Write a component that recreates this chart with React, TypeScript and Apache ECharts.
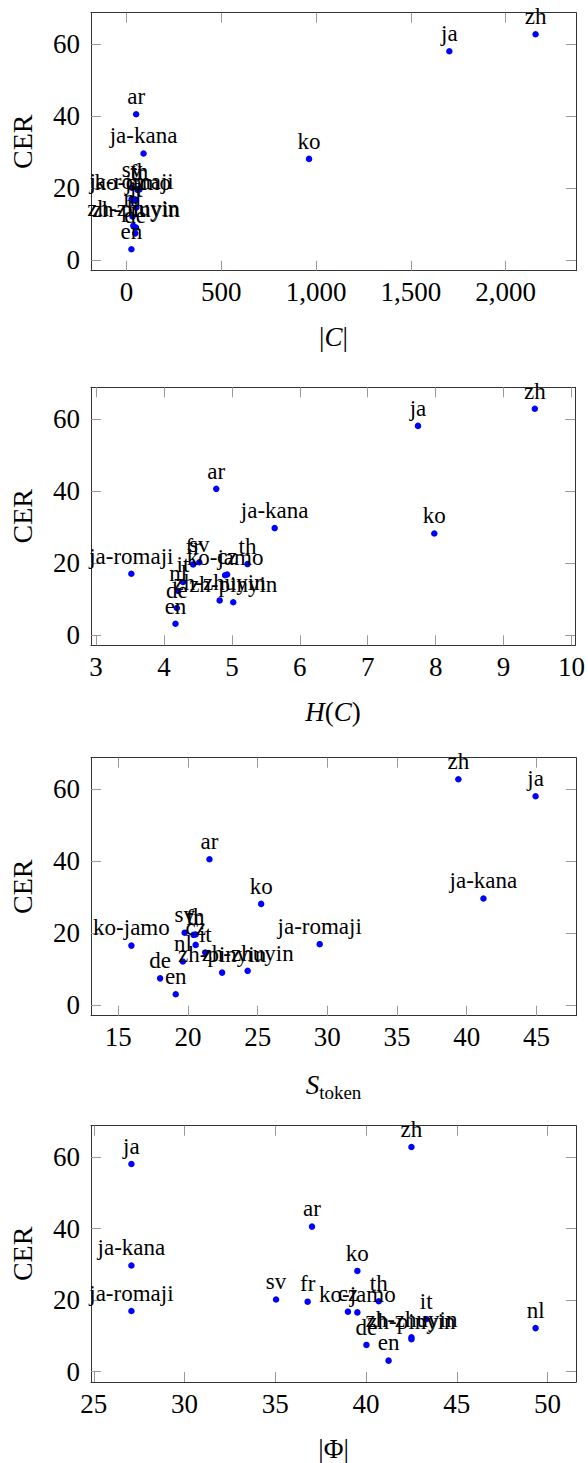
import React, { useEffect, useRef } from 'react';
import * as echarts from 'echarts';

const languages = ['ar', 'cz', 'de', 'en', 'fr', 'it', 'ja', 'ja-kana', 'ja-romaji', 'ko', 'ko-jamo', 'nl', 'sv', 'th', 'zh', 'zh-pinyin', 'zh-zhuyin'];
const cer = [40.6, 16.8, 7.5, 3.1, 19.6, 14.7, 58.1, 29.7, 17.0, 28.2, 16.6, 12.2, 20.2, 19.7, 62.85, 9.1, 9.6];
const charsetSize = [51, 50, 46, 26, 58, 52, 1703, 90, 27, 963, 33, 32, 29, 68, 2158, 50, 36];
const charEntropy = [4.77, 4.93, 4.19, 4.17, 4.43, 4.28, 7.74, 5.63, 3.52, 7.98, 4.9, 4.21, 4.52, 5.23, 9.46, 5.02, 4.82];
const tokenSize = [21.54, 20.55, 18.0, 19.12, 20.4, 21.24, 44.94, 41.2, 29.45, 25.25, 15.94, 19.63, 19.76, 20.55, 39.4, 22.45, 24.28];
const phiSize = [37.02, 39.0, 40.02, 41.24, 36.78, 43.31, 27.07, 27.07, 27.07, 39.52, 39.52, 49.34, 35.04, 40.7, 42.5, 42.5, 42.5];

const cerTicks = [0, 20, 40, 60];
const xTicks1 = [0, 500, 1000, 1500, 2000];
const xTickLabels1 = ['0', '500', '1,000', '1,500', '2,000'];
const xTicks2 = [3, 4, 5, 6, 7, 8, 9, 10];
const xTicks3 = [15, 20, 25, 30, 35, 40, 45];
const xTicks4 = [25, 30, 35, 40, 45, 50];

const xTitles = ['|{i|C}|', '{i|H}({i|C})', '{i|S}{sub|token}', '|Φ|'];
const yTitle = 'CER';

const FONT = 'Liberation Serif';

function padExtent(arr: number[]) {
  const lo = Math.min(...arr);
  const hi = Math.max(...arr);
  const pad = (hi - lo) * 0.1;
  return [lo - pad, hi + pad];
}

export default function App() {
  const ref = useRef<HTMLDivElement>(null);
  useEffect(() => {
    if (!ref.current) return;
    const chart = echarts.init(ref.current, null, { renderer: 'svg' });
    const panels = [
      { x: charsetSize, ticks: xTicks1, labels: xTickLabels1 },
      { x: charEntropy, ticks: xTicks2, labels: xTicks2.map(String) },
      { x: tokenSize, ticks: xTicks3, labels: xTicks3.map(String) },
      { x: phiSize, ticks: xTicks4, labels: xTicks4.map(String) },
    ];
    const tops = [12.7, 387.3, 757.7, 1125.7];
    const yExt = padExtent(cer);
    const grids: any[] = [];
    const xAxes: any[] = [];
    const yAxes: any[] = [];
    const series: any[] = [];
    const lineStyle = { color: '#333', width: 1 };
    const tickStyle = { color: '#9a9a9a', width: 1 };
    panels.forEach((p, i) => {
      grids.push({ left: 91, width: 485, top: tops[i], height: 258 });
      const xExt = padExtent(p.x);
      const common = {
        type: 'value',
        gridIndex: i,
        min: xExt[0],
        max: xExt[1],
        splitLine: { show: false },
        axisLine: { show: true, onZero: false, lineStyle },
        axisTick: { show: true, inside: true, length: 10, lineStyle: tickStyle, customValues: p.ticks },
      };
      xAxes.push({
        ...common,
        position: 'bottom',
        axisLabel: {
          show: true,
          customValues: p.ticks,
          formatter: (v: number) => {
            const k = p.ticks.indexOf(v);
            return k >= 0 ? p.labels[k] : '';
          },
          fontSize: 27,
          fontFamily: FONT,
          color: '#000',
          margin: 8,
        },
        name: xTitles[i],
        nameLocation: 'middle',
        nameGap: 53,
        nameTextStyle: {
          fontSize: 27,
          fontFamily: FONT,
          color: '#000',
          rich: {
            i: { fontStyle: 'italic', fontSize: 27, fontFamily: FONT, color: '#000' },
            sub: { fontSize: 19, fontFamily: FONT, color: '#000', padding: [14, 0, 0, 0] },
          },
        },
      });
      xAxes.push({ ...common, position: 'top', axisLabel: { show: false } });
      const ycommon = {
        type: 'value',
        gridIndex: i,
        min: yExt[0],
        max: yExt[1],
        splitLine: { show: false },
        axisLine: { show: true, onZero: false, lineStyle },
        axisTick: { show: true, inside: true, length: 10, lineStyle: tickStyle, customValues: cerTicks },
      };
      yAxes.push({
        ...ycommon,
        position: 'left',
        axisLabel: {
          show: true,
          customValues: cerTicks,
          fontSize: 27,
          fontFamily: FONT,
          color: '#000',
          margin: 11,
        },
        name: yTitle,
        nameLocation: 'middle',
        nameGap: 55,
        nameTextStyle: { fontSize: 28, fontFamily: FONT, color: '#000' },
      });
      yAxes.push({ ...ycommon, position: 'right', axisLabel: { show: false } });
      series.push({
        type: 'scatter',
        xAxisIndex: 2 * i,
        yAxisIndex: 2 * i,
        symbol: 'circle',
        symbolSize: 6.5,
        itemStyle: { color: '#0000ff', opacity: 1 },
        data: languages.map((l, k) => [p.x[k], cer[k]]),
        label: {
          show: true,
          position: 'top',
          distance: 3,
          formatter: (params: any) => languages[params.dataIndex],
          fontSize: 23,
          fontFamily: FONT,
          color: '#000',
        },
        emphasis: { disabled: true },
        clip: false,
      });
    });
    chart.setOption({
      animation: false,
      backgroundColor: '#fff',
      textStyle: { fontFamily: FONT, color: '#000' },
      grid: grids,
      xAxis: xAxes,
      yAxis: yAxes,
      series,
    });
    return () => chart.dispose();
  }, []);
  return <div ref={ref} style={{ position: 'absolute', left: 0, top: 0, width: 588, height: 1463 }} />;
}
